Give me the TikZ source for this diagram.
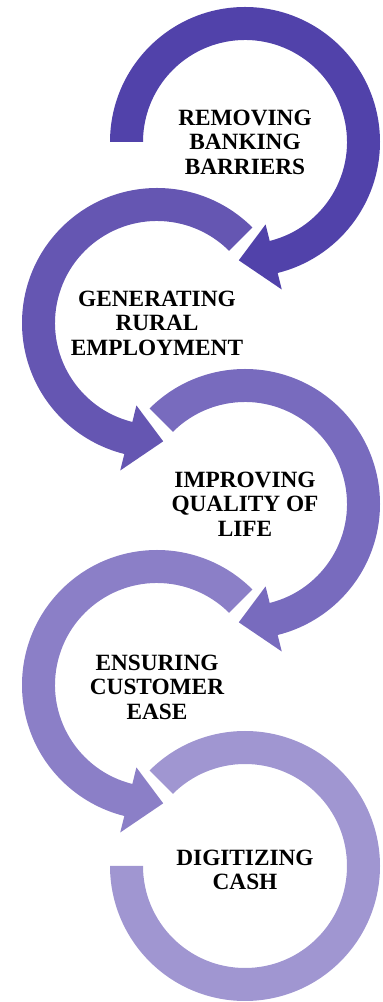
\documentclass[tikz,border=0pt]{standalone}
\usepackage{fontspec}
\setmainfont{Liberation Serif}
\definecolor{stepA}{RGB}{81,66,170}
\definecolor{stepB}{RGB}{101,86,178}
\definecolor{stepC}{RGB}{120,107,190}
\definecolor{stepD}{RGB}{139,127,199}
\definecolor{stepE}{RGB}{160,150,209}
\tikzset{
  steptext/.style={align=center, text=black, inner sep=0pt,
    font=\fontsize{23.3}{24.5}\selectfont\bfseries}
}
\begin{document}
\begin{tikzpicture}[x=1pt, y=1pt]
    \useasboundingbox (0,0) rectangle (383,1002);
    % Ring centres
    \coordinate (c1) at (245,860);
    \coordinate (c2) at (157,679);
    \coordinate (c3) at (245,498);
    \coordinate (c4) at (157,317);
    \coordinate (c5) at (245,136);
    % Ring 1 (clockwise, head at bottom right)
    \fill[stepA, shift={(c1)}] (180:135) arc[start angle=180, end angle=-76, radius=135]
        -- (-76:152) -- (-93:118.5) -- (-76:85) -- (-76:102)
        arc[start angle=-76, end angle=180, radius=102] -- cycle;
    % Ring 2 (counter clockwise, head at bottom right)
    \fill[stepB, shift={(c2)}] (45:135) arc[start angle=45, end angle=256, radius=135]
        -- (256:152) -- (273:118.5) -- (256:85) -- (256:102)
        arc[start angle=256, end angle=45, radius=102] -- cycle;
    % Ring 3
    \fill[stepC, shift={(c3)}] (135:135) arc[start angle=135, end angle=-76, radius=135]
        -- (-76:152) -- (-93:118.5) -- (-76:85) -- (-76:102)
        arc[start angle=-76, end angle=135, radius=102] -- cycle;
    % Ring 4
    \fill[stepD, shift={(c4)}] (45:135) arc[start angle=45, end angle=256, radius=135]
        -- (256:152) -- (273:118.5) -- (256:85) -- (256:102)
        arc[start angle=256, end angle=45, radius=102] -- cycle;
    % Ring 5 (no head)
    \fill[stepE, shift={(c5)}] (135:135) arc[start angle=135, end angle=-180, radius=135]
        -- (180:102) arc[start angle=-180, end angle=135, radius=102] -- cycle;
    % Labels
    \node[steptext] (removing) at (c1) {REMOVING\\BANKING\\BARRIERS};
    \node[steptext] (generating) at (c2) {GENERATING\\RURAL\\EMPLOYMENT};
    \node[steptext] (improving) at (c3) {IMPROVING\\QUALITY OF\\LIFE};
    \node[steptext] (ensuring) at ([yshift=-2]c4) {ENSURING\\CUSTOMER\\EASE};
    \node[steptext] (digitizing) at ([yshift=-4]c5) {DIGITIZING\\CASH};
\end{tikzpicture}
\end{document}
